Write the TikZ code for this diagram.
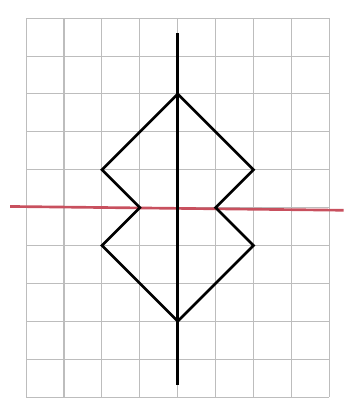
\documentclass[tikz,border=0pt]{standalone}
\usepackage{tikz}
\definecolor{MirrorRed}{HTML}{C8505E}
\definecolor{PaperGrid}{HTML}{BDBDBD}
\begin{document}
\begin{tikzpicture}[gridline/.style={draw=PaperGrid,line width=0.8pt},
    figline/.style={draw=black,line width=2pt,line join=miter},
    mirror/.style={draw=MirrorRed,line width=2pt}]
      \useasboundingbox (-0.69,-0.21) rectangle (8.38,10.48);
      \draw[gridline] (0,0) grid (8,10);
      % symmetry axis and red mirror line
      \coordinate (AxTop) at (4,9.6);
      \coordinate (AxBot) at (4,0.32);
      \coordinate (MrL) at (-0.42,5.03);
      \coordinate (MrR) at (8.38,4.93);
      \draw[mirror] (MrL) -- (MrR);
      \draw[figline] (AxTop) -- (AxBot);
      % the figure
      \coordinate (T) at (4,8);
      \coordinate (RU) at (6,6);
      \coordinate (RI) at (5,5);
      \coordinate (RL) at (6,4);
      \coordinate (B) at (4,2);
      \coordinate (LL) at (2,4);
      \coordinate (LI) at (3,5);
      \coordinate (LU) at (2,6);
      \draw[figline] (T) -- (RU) -- (RI) -- (RL) -- (B) -- (LL) -- (LI) -- (LU) -- cycle;
    \end{tikzpicture}
\end{document}
